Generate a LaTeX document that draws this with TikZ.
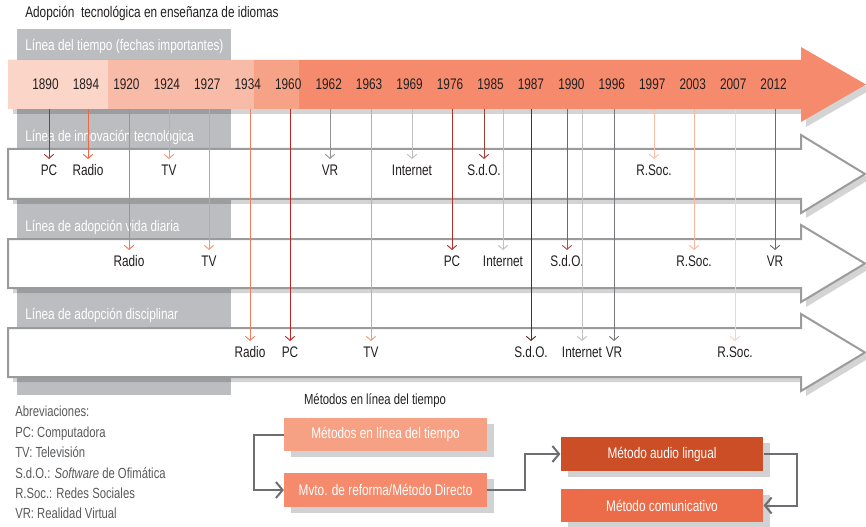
\documentclass[tikz,border=0pt]{standalone}
\usepackage{fontspec}
\setmainfont{Liberation Sans}[FakeStretch=0.77]
\usetikzlibrary{positioning,arrows.meta,shadows}
\definecolor{colgray}{HTML}{BCBDC0}
\definecolor{rimgray}{HTML}{9A9B9D}
\definecolor{shdgray}{HTML}{D1D2D3}
\definecolor{tlA}{HTML}{FBD6C8}
\definecolor{tlB}{HTML}{F8BBA7}
\definecolor{tlC}{HTML}{F6A287}
\definecolor{tlD}{HTML}{F58B6C}
\definecolor{txtcol}{HTML}{231F20}
\definecolor{notecol}{HTML}{58595B}
\definecolor{pccol}{HTML}{A8322A}
\definecolor{radiocol}{HTML}{EC6744}
\definecolor{tvcol}{HTML}{F4997A}
\definecolor{vrcol}{HTML}{77787B}
\definecolor{netcol}{HTML}{BFC0C2}
\definecolor{sdocol}{HTML}{9E3F38}
\definecolor{rscol}{HTML}{F9BDA9}
\definecolor{audiocol}{HTML}{CC4E27}
\definecolor{comcol}{HTML}{EC6B48}
\definecolor{linkcol}{HTML}{6D6E71}

\begin{document}
\begin{tikzpicture}[x=0.75pt,y=-0.75pt,font=\fontsize{11.5}{13}\selectfont,
   yr/.style={text=txtcol,inner sep=0pt},
   lane/.style={text=white,anchor=west,inner sep=0pt},
   evt/.style={anchor=north,inner xsep=1pt,inner ysep=4pt,text=txtcol},
   ev/.style={-{Straight Barb[length=3pt,width=7pt]},line width=0.7pt},
   row/.style={draw=rimgray,line width=1.5pt,fill=white},
   shd/.style={fill=black,opacity=.17},
   mbox/.style={minimum width=152pt,minimum height=25pt,inner sep=0pt,text=white,
              drop shadow={shadow xshift=5.3pt,shadow yshift=-4.5pt,fill=shdgray,opacity=1}},
   link/.style={-{Straight Barb[length=5pt,width=12pt]},line width=1.5pt,draw=linkcol},
]
\useasboundingbox (0,0) rectangle (866,527);

\node[text=txtcol,anchor=west,inner sep=0pt] (title) at (25,13)
   {Adopción\ \ tecnológica en enseñanza de idiomas};

% gray column behind the lanes
\fill[colgray] (17,29) rectangle (231,395);

% time line
\fill[shd,shift={(5,5)}] (8,60) -- (801,60) -- (801,47) -- (866,84.5) -- (801,122)
   -- (801,109) -- (8,109) -- cycle;
\fill[tlD] (8,60) -- (801,60) -- (801,47) -- (866,84.5) -- (801,122)
   -- (801,109) -- (8,109) -- cycle;
\fill[tlA] (8,60) rectangle (108,109);
\fill[tlB] (108,60) rectangle (254,109);
\fill[tlC] (254,60) rectangle (299,109);
\coordinate (tl) at (0,109);

% lanes
\fill[shd,shift={(5,5)}] (8,149) -- (801,149) -- (801,135) -- (865,174) -- (801,213)
   -- (801,199) -- (8,199) -- cycle;
\draw[row] (8,149) -- (801,149) -- (801,135) -- (865,174) -- (801,213)
   -- (801,199) -- (8,199) -- cycle;
\fill[shd,shift={(5,5)}] (8,239) -- (801,239) -- (801,225) -- (865,263.5) -- (801,302)
   -- (801,288) -- (8,288) -- cycle;
\draw[row] (8,239) -- (801,239) -- (801,225) -- (865,263.5) -- (801,302)
   -- (801,288) -- (8,288) -- cycle;
\fill[shd,shift={(5,5)}] (8,328) -- (801,328) -- (801,314) -- (865,352.5) -- (801,391)
   -- (801,377) -- (8,377) -- cycle;
\draw[row] (8,328) -- (801,328) -- (801,314) -- (865,352.5) -- (801,391)
   -- (801,377) -- (8,377) -- cycle;

\node[lane] (lnT) at (25,46)  {Línea del tiempo (fechas importantes)};
\node[lane] (lnI) at (25,137) {Línea de innovación tecnológica};
\node[lane] (lnV) at (25,227) {Línea de adopción vida diaria};
\node[lane] (lnD) at (25,315) {Línea de adopción disciplinar};

% years
\node[yr] (y1890) at (45.5,84)  {1890};
\node[yr] (y1894) at (86,84)    {1894};
\node[yr] (y1920) at (126.4,84) {1920};
\node[yr] (y1924) at (166.9,84) {1924};
\node[yr] (y1927) at (207.3,84) {1927};
\node[yr] (y1934) at (247.8,84) {1934};
\node[yr] (y1960) at (288.2,84) {1960};
\node[yr] (y1962) at (328.7,84) {1962};
\node[yr] (y1963) at (369.1,84) {1963};
\node[yr] (y1969) at (409.6,84) {1969};
\node[yr] (y1976) at (450,84)   {1976};
\node[yr] (y1985) at (490.5,84) {1985};
\node[yr] (y1987) at (530.9,84) {1987};
\node[yr] (y1990) at (571.4,84) {1990};
\node[yr] (y1996) at (611.8,84) {1996};
\node[yr] (y1997) at (652.3,84) {1997};
\node[yr] (y2003) at (692.7,84) {2003};
\node[yr] (y2007) at (733.2,84) {2007};
\node[yr] (y2012) at (773.6,84) {2012};

% innovacion
\node[evt] (inPC)  at (49,159)  {PC};
\node[evt] (inRad) at (88,159)  {Radio};
\node[evt] (inTV)  at (169,159) {TV};
\node[evt] (inVR)  at (330,159) {VR};
\node[evt] (inNet) at (412,159) {Internet};
\node[evt] (inSdO) at (484,159) {S.d.O.};
\node[evt] (inRS)  at (654,159) {R.Soc.};
\draw[ev,pccol]    (inPC |- tl)  -- (inPC.north);
\draw[ev,radiocol] (inRad |- tl) -- (inRad.north);
\draw[ev,tvcol]    (inTV |- tl)  -- (inTV.north);
\draw[ev,vrcol!80] (inVR |- tl)  -- (inVR.north);
\draw[ev,netcol]   (inNet |- tl) -- (inNet.north);
\draw[ev,sdocol]   (inSdO |- tl) -- (inSdO.north);
\draw[ev,rscol]    (inRS |- tl)  -- (inRS.north);

% vida diaria
\node[evt] (vdRad) at (129,250) {Radio};
\node[evt] (vdTV)  at (209,250) {TV};
\node[evt] (vdPC)  at (452,250) {PC};
\node[evt] (vdNet) at (503,250) {Internet};
\node[evt] (vdSdO) at (567,250) {S.d.O.};
\node[evt] (vdRS)  at (694,250) {R.Soc.};
\node[evt] (vdVR)  at (775,250) {VR};
\draw[ev,radiocol!90!white] (vdRad |- tl) -- (vdRad.north);
\draw[ev,tvcol!95!radiocol] (vdTV |- tl)  -- (vdTV.north);
\draw[ev,pccol!90!red]      (vdPC |- tl)  -- (vdPC.north);
\draw[ev,netcol]            (vdNet |- tl) -- (vdNet.north);
\draw[ev,sdocol!90!white]   (vdSdO |- tl) -- (vdSdO.north);
\draw[ev,rscol!80!tvcol]    (vdRS |- tl)  -- (vdRS.north);
\draw[ev,vrcol!90!black]    (vdVR |- tl)  -- (vdVR.north);

% disciplinar
\node[evt] (adRad) at (250,341) {Radio};
\node[evt] (adPC)  at (290,341) {PC};
\node[evt] (adTV)  at (371,341) {TV};
\node[evt] (adSdO) at (531,341) {S.d.O.};
\node[evt] (adNet) at (582,341) {Internet};
\node[evt] (adVR)  at (614,341) {VR};
\node[evt] (adRS)  at (735,341) {R.Soc.};
\draw[ev,radiocol!85!white] (adRad |- tl) -- (adRad.north);
\draw[ev,pccol!80!red]      (adPC |- tl)  -- (adPC.north);
\draw[ev,tvcol]             (adTV |- tl)  -- (adTV.north);
\draw[ev,sdocol!60!black]   (adSdO |- tl) -- (adSdO.north);
\draw[ev,netcol]            (adNet |- tl) -- (adNet.north);
\draw[ev,vrcol]             (adVR |- tl)  -- (adVR.north);
\draw[ev,rscol!70!white]    (adRS |- tl)  -- (adRS.north);

% abbreviations
\node[anchor=north west,align=left,inner sep=0pt,text=notecol,
      font=\fontsize{11}{15.3}\selectfont] (abbr) at (15,406)
   {Abreviaciones:\\ PC: Computadora\\ TV: Televisión\\
    S.d.O.: \textit{Software} de Ofimática\\ R.Soc.: Redes Sociales\\
    VR: Realidad Virtual};

% methods
\node[text=txtcol,inner sep=0pt,font=\fontsize{11}{13}\selectfont] (mtitle) at (375,401)
   {Métodos en línea del tiempo};
\node[mbox,fill=tlC!90!tlD]  (m1) at (385.5,434.5) {Métodos en línea del tiempo};
\node[mbox,fill=tlD]          (m2) at (385.5,490)   {Mvto. de reforma/Método Directo};
\node[mbox,fill=audiocol]     (m3) at (662,454)     {Método audio lingual};
\node[mbox,fill=comcol]       (m4) at (662,505.5)   {Método comunicativo};
\draw[link] (m1.west) -- ++(-30,0) |- (m2.west);
\draw[link] (m2.east) -- ++(38,0) |- (m3.west);
\draw[link] (m3.east) -- ++(33,0) |- (m4.east);
\end{tikzpicture}
\end{document}
